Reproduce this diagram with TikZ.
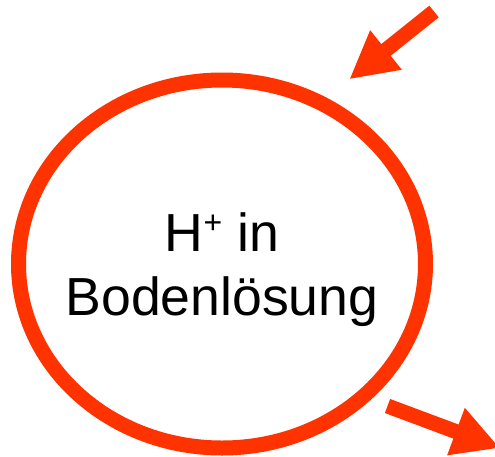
\documentclass[tikz,border=0pt]{standalone}
\usepackage{fontspec}
\setmainfont{Liberation Sans}
\usetikzlibrary{shapes.geometric,arrows.meta}
\definecolor{hred}{RGB}{255,51,0}
\newcommand{\hplus}{\raisebox{17.8pt}{\fontsize{32}{32}\selectfont+}}
\begin{document}
\begin{tikzpicture}[x=1pt,y=-1pt,
  ring/.style={ellipse,draw=hred,line width=15pt,minimum width=407pt,minimum height=368pt,inner sep=0pt},
  flow/.style={draw=hred,line width=15pt,line cap=butt,-{Triangle[length=47pt,width=47pt]}},
  label/.style={font=\fontsize{53.6}{63.3}\selectfont,align=center,inner sep=0pt}]
\useasboundingbox (0,0) rectangle (495,456);
\node[ring] (e) at (222,264) {};
\node[label,anchor=base] (t) at (222,315) {H\hplus{} in\\Bodenlösung};
\coordinate (a1s) at (434,11.5);
\coordinate (a1e) at (349.3,79.3);
\coordinate (a2s) at (387.5,406);
\coordinate (a2e) at (500,448);
\draw[flow] (a1s) -- (a1e);
\draw[flow] (a2s) -- (a2e);
\end{tikzpicture}
\end{document}
